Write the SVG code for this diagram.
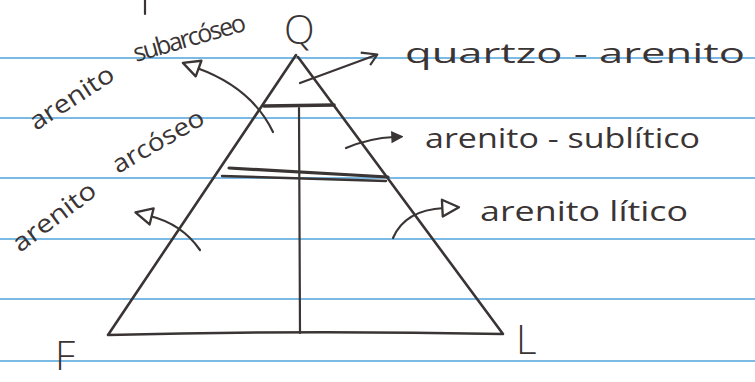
<svg xmlns="http://www.w3.org/2000/svg" width="755" height="382" viewBox="0 0 755 382">
  <defs>
    <style>
      .ruled { stroke: #4fa3dc; stroke-width: 1.6; }
      .ink { stroke: #3a3434; fill: none; stroke-linecap: round; stroke-linejoin: round; }
      .edge { stroke-width: 2.6; }
      .hand { font-family: "Open Sans", "DejaVu Sans", sans-serif; fill: #3a3434; }
      .lbl { font-size: 27px; }
      .rot { font-size: 25px; }
      .vtx { font-size: 40px; font-weight: 300; }
    </style>
    <marker id="open-tri" viewBox="0 0 12 12" refX="2" refY="6" markerWidth="20" markerHeight="20" markerUnits="userSpaceOnUse" orient="auto">
      <path d="M1,1 L11,6 L1,11 Z" fill="#fff" stroke="#3a3434" stroke-width="1.4" stroke-linejoin="round"/>
    </marker>
    <marker id="small-tri" viewBox="0 0 12 12" refX="3" refY="6" markerWidth="12" markerHeight="16" markerUnits="userSpaceOnUse" orient="auto">
      <path d="M1,1 L11,6 L1,11 Z" fill="#3a3434" stroke="#3a3434" stroke-width="1.4"/>
    </marker>
    <marker id="chevron" viewBox="0 0 12 12" refX="10" refY="6" markerWidth="18" markerHeight="18" markerUnits="userSpaceOnUse" orient="auto">
      <path d="M1,1 L11,6 L4,11" fill="none" stroke="#3a3434" stroke-width="1.4" stroke-linejoin="round"/>
    </marker>
  </defs>

  <rect width="755" height="382" fill="#ffffff"/>

  <g id="ruled-paper">
    <line class="ruled" x1="0" y1="58" x2="755" y2="58"/>
    <line class="ruled" x1="0" y1="118" x2="755" y2="118"/>
    <line class="ruled" x1="0" y1="178" x2="755" y2="178"/>
    <line class="ruled" x1="0" y1="239" x2="755" y2="239"/>
    <line class="ruled" x1="0" y1="299" x2="755" y2="299"/>
    <line class="ruled" x1="0" y1="361" x2="755" y2="361"/>
  </g>

  <path class="ink" stroke-width="2.2" d="M145,0 L145,14"/>

  <g id="triangle">
    <path class="ink edge" d="M296,55 L108,335 Q300,330 503,334 L298,57"/>
    <path class="ink" stroke-width="3.6" d="M264,106 L334,105"/>
    <path class="ink" stroke-width="3.2" d="M229,168 L388,177"/>
    <path class="ink" stroke-width="2.4" d="M222,176 L386,181"/>
    <path class="ink" stroke-width="2.2" d="M299,108 L300,333"/>
  </g>

  <g id="vertex-Q"><text class="hand vtx" x="284" y="44" font-size="30">Q</text></g>
  <g id="vertex-F"><text class="hand vtx" x="55" y="370">F</text></g>
  <g id="vertex-L"><text class="hand vtx" x="516" y="354">L</text></g>

  <g id="label-quartzo-arenito"><text class="hand lbl" x="405" y="63" font-size="30" textLength="340" lengthAdjust="spacingAndGlyphs">quartzo - arenito</text></g>
  <g id="label-arenito-sublitico"><text class="hand lbl" x="425" y="148" textLength="275" lengthAdjust="spacingAndGlyphs">arenito - sublítico</text></g>
  <g id="label-arenito-litico"><text class="hand lbl" x="480" y="221" textLength="208" lengthAdjust="spacingAndGlyphs">arenito lítico</text></g>
  <g id="label-arenito-subarcoseo">
    <text class="hand rot" transform="translate(36,131) rotate(-33)" textLength="96" lengthAdjust="spacingAndGlyphs">arenito</text>
    <text class="hand rot" transform="translate(136,62) rotate(-16)" font-size="23" textLength="116" lengthAdjust="spacing">subarcóseo</text>
  </g>
  <g id="label-arenito-arcoseo">
    <text class="hand rot" transform="translate(20,253) rotate(-37)" textLength="98" lengthAdjust="spacingAndGlyphs">arenito</text>
    <text class="hand rot" transform="translate(118,174) rotate(-30)" textLength="102" lengthAdjust="spacingAndGlyphs">arcóseo</text>
  </g>

  <g id="connectors">
    <path class="ink" stroke-width="2.2" d="M300,83 L376,55" marker-end="url(#chevron)"/>
    <path class="ink" stroke-width="2.2" d="M346,148 Q370,138 394,137" marker-end="url(#small-tri)"/>
    <path class="ink" stroke-width="2.2" d="M393,238 Q405,210 444,208" marker-end="url(#open-tri)"/>
    <path class="ink" stroke-width="2.2" d="M273,132 Q252,88 197,68" marker-end="url(#open-tri)"/>
    <path class="ink" stroke-width="2.2" d="M200,250 Q182,224 150,216" marker-end="url(#open-tri)"/>
  </g>
</svg>
